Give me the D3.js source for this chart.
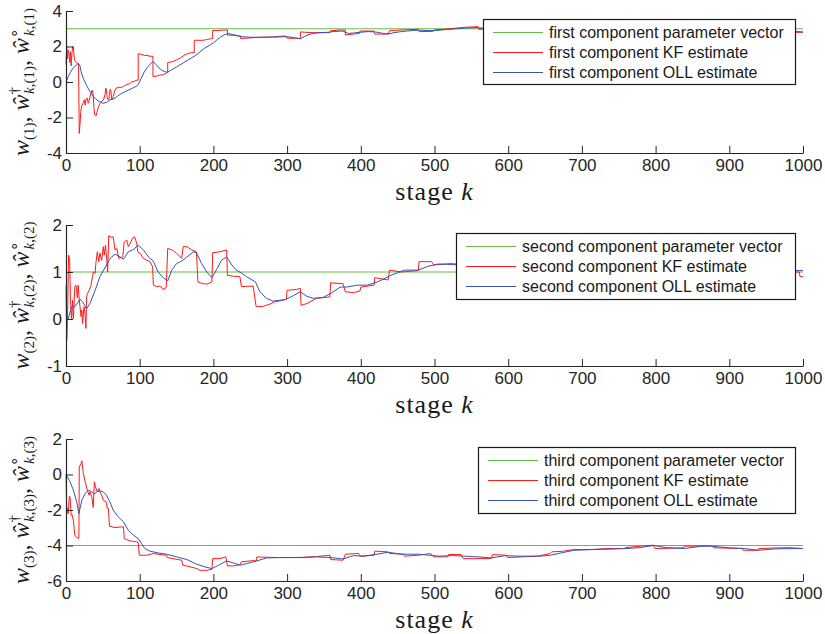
<!DOCTYPE html>
<html>
<head>
<meta charset="utf-8">
<script src="https://cdn.jsdelivr.net/npm/d3@7"></script>
<style>
  html, body { margin: 0; padding: 0; background: #fff; }
  svg { display: block; }
  .tick text { font-family: "Liberation Sans", Arial, sans-serif; font-size: 17px; fill: #262626; }
</style>
</head>
<body>
<svg id="chart" width="825" height="634"></svg>
<script>
// ---- data -------------------------------------------------------------
const xTicks = [0, 100, 200, 300, 400, 500, 600, 700, 800, 900, 1000];
const yTicks1 = [-4, -2, 0, 2, 4];
const yTicks2 = [-1, 0, 1, 2];
const yTicks3 = [-6, -4, -2, 0, 2];
const trueParams = [3, 1, -4];
const componentNames = ["first", "second", "third"];

// [stage k, estimate] pairs; repeated k marks a reset jump
const kf1 = [[0,1.0],[1,2.0],[2,1.3],[3,1.8],[4,1.6],[5,1.1],[6,1.7],[7,0.9],[8,1.6],[9,2.0],[10,2.0],[11,1.4],[12,1.2],[14,1.1],[16,1.05],[17,1.0],[18,-2.9],[19,-2.4],[20,-1.7],[21,-1.4],[23,-1.2],[25,-1.0],[26,-1.3],[27,-1.0],[29,-0.9],[30,-1.2],[31,-1.1],[33,-0.8],[35,-0.5],[36,-0.45],[37,-0.8],[38,-1.5],[39,-1.85],[41,-1.9],[42,-1.7],[44,-1.4],[46,-1.2],[49,-1.05],[51,-1.0],[53,-0.7],[54,-0.35],[55,-0.5],[56,-0.95],[58,-1.0],[59,-0.7],[60,-0.4],[61,-0.55],[62,-1.0],[64,-0.85],[66,-0.5],[68,-0.35],[71,-0.3],[75,-0.3],[78,-0.25],[82,-0.15],[86,-0.1],[89,0.0],[93,0.05],[96,0.1],[98,0.1],[98,1.6],[103,1.55],[106,1.5],[110,1.5],[114,1.45],[118,1.45],[118,0.3],[124,0.35],[128,0.4],[132,0.4],[136,0.5],[138,0.55],[138,1.1],[145,1.15],[150,1.25],[155,1.35],[160,1.5],[165,1.6],[170,1.65],[174,1.65],[174,2.35],[186,2.35],[192,2.4],[198,2.45],[199,2.45],[199,2.9],[206,2.9],[212,2.92],[219,2.93],[219,2.65],[226,2.63],[232,2.6],[237,2.58],[237,2.45],[245,2.47],[255,2.5],[265,2.52],[280,2.54],[295,2.59],[299,2.58],[300,2.47],[310,2.46],[318,2.45],[318,2.82],[325,2.8],[335,2.78],[358,2.78],[359,2.89],[374,2.93],[379,2.93],[379,2.65],[390,2.7],[398,2.74],[399,2.87],[418,2.87],[419,2.7],[437,2.7],[439,2.89],[460,2.94],[478,2.97],[479,2.84],[498,2.85],[499,2.93],[520,3.0],[541,3.08],[559,3.12],[560,2.97],[600,3.0],[700,3.02],[800,2.98],[900,3.0],[980,2.95],[985,2.8],[1000,2.8]];
const oll1 = [[0,0],[3,0.3],[6,0.55],[10,0.8],[14,0.95],[17,1.05],[19,0.9],[21,0.5],[24,0.15],[28,-0.2],[32,-0.5],[36,-0.75],[40,-0.95],[45,-1.1],[50,-1.2],[55,-1.15],[60,-1.0],[65,-0.95],[70,-0.8],[75,-0.65],[80,-0.55],[85,-0.45],[90,-0.35],[95,-0.25],[98,-0.15],[102,0.2],[106,0.55],[110,0.8],[114,1.0],[118,1.15],[122,1.0],[126,0.8],[130,0.66],[134,0.58],[138,0.55],[142,0.65],[150,0.85],[160,1.1],[170,1.35],[176,1.5],[182,1.7],[188,1.9],[196,2.1],[200,2.2],[205,2.38],[210,2.55],[216,2.68],[220,2.72],[226,2.68],[234,2.6],[240,2.55],[250,2.52],[265,2.52],[280,2.53],[300,2.55],[310,2.5],[318,2.43],[325,2.6],[335,2.74],[345,2.78],[355,2.8],[365,2.85],[375,2.87],[383,2.74],[390,2.76],[398,2.8],[410,2.84],[420,2.82],[430,2.74],[437,2.7],[445,2.78],[455,2.84],[470,2.9],[480,2.92],[490,2.9],[500,2.89],[515,2.95],[530,3.0],[541,3.04],[559,3.06],[570,3.02],[650,3.0],[750,3.0],[850,2.98],[950,2.95],[1000,2.82]];

const kf2 = [[0,0.7],[1,-0.45],[2,-0.03],[3.5,1.36],[5,1.25],[6,0.4],[7.5,0.0],[9,0.4],[10,0.0],[12,0.69],[13.5,0.72],[15.5,0.45],[16.5,0.72],[18,0.4],[19,0.26],[20.5,0.05],[21.5,0.19],[22.5,-0.1],[24.5,0.26],[26,0.08],[27,-0.2],[28,0.47],[29,0.54],[31.5,0.61],[33.5,0.69],[36,0.9],[37,1.0],[39.5,0.97],[40.5,1.18],[42.5,1.43],[44.5,1.22],[46,1.4],[48.5,1.25],[50.5,1.54],[52,1.36],[53.5,1.57],[55,1.32],[56.5,1.0],[58,1.77],[62,1.74],[64,1.75],[66.5,1.47],[69,1.5],[71.5,1.29],[77,1.32],[79,1.64],[82.5,1.68],[84.5,1.54],[87,1.61],[90.5,1.72],[93,1.75],[96,1.61],[97.5,1.43],[100.5,1.4],[105,1.29],[109.5,1.25],[114,1.22],[117.5,1.11],[118.5,0.72],[123,0.69],[127.5,0.7],[132,0.63],[136,0.67],[138,1.5],[144,1.47],[150,1.4],[157,1.29],[159,1.54],[164,1.54],[170.5,1.47],[177,1.43],[179,0.79],[184,0.76],[191,0.74],[198,0.79],[199,1.41],[209,1.43],[218,1.47],[219,0.93],[227,0.91],[236,0.9],[238,0.69],[254,0.7],[258,0.26],[268,0.27],[277,0.32],[282,0.36],[295,0.4],[299,0.42],[300,0.61],[313,0.63],[318,0.65],[319,0.29],[327,0.33],[340,0.44],[358,0.47],[359,0.77],[376,0.75],[379,0.58],[390,0.56],[399,0.6],[400,0.68],[418,0.72],[419,0.88],[437,0.83],[439,1.04],[455,1.0],[478,1.03],[479,1.22],[496,1.22],[499,1.15],[523,1.18],[540,1.15],[600,1.1],[700,1.08],[800,1.05],[900,1.03],[985,1.0],[995,1.0],[996,0.9],[1000,0.9]];
const oll2 = [[0,0],[3,0.0],[7.5,0.26],[12,0.26],[19,0.42],[22.5,0.37],[28,0.22],[32.5,0.33],[39.5,0.61],[46,0.9],[55,1.15],[60,1.29],[66.5,1.38],[73.5,1.32],[78,1.27],[84.5,1.43],[91.5,1.48],[98,1.57],[105,1.47],[112,1.32],[118.5,1.23],[125,1.0],[132,0.88],[138,0.81],[143.5,1.04],[150,1.18],[157,1.23],[164,1.32],[173,1.43],[177,1.41],[184,1.18],[191,1.0],[198,0.88],[205,1.07],[211,1.25],[218,1.32],[225,1.15],[231,1.04],[238,0.98],[245,0.9],[257,0.79],[263,0.58],[272,0.44],[281,0.38],[290,0.4],[297,0.41],[309,0.5],[318,0.58],[327,0.48],[336,0.44],[349,0.46],[361,0.56],[372,0.68],[381,0.68],[395,0.72],[409,0.72],[423,0.79],[441,0.93],[459,1.04],[478,1.04],[491,1.12],[505,1.17],[523,1.16],[560,1.12],[650,1.08],[750,1.05],[850,1.04],[1000,1.03]];

const kf3 = [[0,0],[1,-2.2],[2.3,-1.9],[3,-2.2],[4.5,-1.22],[5.5,-1.26],[7,-2.3],[8,-2.25],[10,-2.58],[12,-3.42],[14.5,-3.55],[17.5,-3.6],[18,0.43],[20.5,0.62],[21.5,0.77],[23.5,0.06],[26,-0.41],[29,-0.88],[31.5,-1.17],[32.5,-0.98],[35,-1.26],[37,-1.86],[38.5,-0.41],[40,-0.7],[42.5,-0.98],[45,-0.79],[46,-0.98],[48.5,-1.17],[50.5,-1.45],[54.5,-1.54],[56,-1.92],[57.5,-1.92],[59,-2.91],[66.5,-2.99],[75.5,-2.95],[78,-2.95],[79,-3.61],[87,-3.74],[96,-3.8],[98,-3.85],[99.5,-4.55],[109.5,-4.55],[118.5,-4.45],[127.5,-4.51],[136.5,-4.55],[137.5,-4.68],[145.5,-4.74],[157,-4.83],[158.5,-5.11],[168.5,-5.2],[177.5,-5.3],[182,-5.4],[191,-5.4],[198,-5.34],[199,-4.74],[209,-4.74],[217,-4.64],[219,-5.15],[227,-5.15],[236,-5.08],[238,-4.92],[254,-4.85],[258,-4.87],[259,-4.64],[268,-4.66],[290,-4.68],[320,-4.67],[340,-4.62],[358,-4.55],[359,-4.79],[376,-4.83],[379,-4.49],[397,-4.45],[399,-4.6],[418,-4.55],[419,-4.32],[437,-4.36],[439,-4.45],[458,-4.49],[459,-4.6],[478,-4.55],[495,-4.45],[499,-4.64],[518,-4.64],[519,-4.51],[536,-4.51],[539,-4.74],[577,-4.74],[579,-4.51],[597,-4.55],[599,-4.68],[640,-4.6],[657,-4.45],[659,-4.36],[675,-4.32],[689,-4.23],[712,-4.23],[734,-4.17],[758,-4.17],[759,-4.12],[779,-4.04],[797,-3.98],[799,-4.17],[826,-4.15],[838,-4.13],[839,-4.04],[876,-4.02],[879,-4.13],[917,-4.17],[919,-4.27],[939,-4.27],[940,-4.17],[980,-4.12],[1000,-4.17]];
const oll3 = [[0,0],[5.5,-0.41],[10,-0.88],[14.5,-1.54],[17.5,-2.2],[21.5,-1.45],[26,-1.07],[30.5,-0.88],[35,-0.98],[38.5,-1.11],[41.5,-0.98],[46,-0.92],[50.5,-0.98],[55,-1.17],[59.5,-1.54],[64,-2.0],[71,-2.39],[78,-2.67],[84.5,-3.14],[91.5,-3.42],[98,-3.61],[102.5,-3.89],[107,-4.17],[114,-4.32],[125,-4.42],[136.5,-4.49],[150,-4.64],[164,-4.79],[177.5,-5.06],[189,-5.21],[198,-5.3],[207,-5.11],[218,-4.87],[227,-4.98],[236,-5.11],[245,-5.02],[259,-4.87],[272,-4.7],[290,-4.68],[318,-4.68],[340,-4.64],[359,-4.68],[376,-4.76],[390,-4.57],[404,-4.6],[422,-4.49],[437,-4.38],[455,-4.49],[478,-4.49],[505,-4.6],[523,-4.57],[541,-4.6],[559,-4.64],[577,-4.7],[596,-4.57],[614,-4.6],[644,-4.6],[657,-4.55],[689,-4.27],[712,-4.23],[734,-4.21],[761,-4.17],[779,-4.12],[797,-4.0],[815,-4.12],[839,-4.17],[862,-4.04],[876,-4.04],[899,-4.13],[921,-4.17],[939,-4.27],[962,-4.19],[1000,-4.17]];

// ---- layout -----------------------------------------------------------
const colors = { truth: "#62c046", kf: "#ff1a1a", oll: "#3553b8", axis: "#262626" };
const xRange = [66, 803];
const panels = [
  { kf: kf1, oll: oll1, truth: trueParams[0], yDomain: [-4, 4], yTicks: yTicks1, top: 11,  bottom: 153,
    legend: { x: 483, y: 19,  w: 312, h: 65 } },
  { kf: kf2, oll: oll2, truth: trueParams[1], yDomain: [-1, 2], yTicks: yTicks2, top: 225, bottom: 366,
    legend: { x: 456, y: 233, w: 339, h: 66 } },
  { kf: kf3, oll: oll3, truth: trueParams[2], yDomain: [-6, 2], yTicks: yTicks3, top: 439, bottom: 581,
    legend: { x: 478, y: 447, w: 317, h: 66 } }
];

const svg = d3.select("#chart");
const x = d3.scaleLinear().domain([0, 1000]).range(xRange);

panels.forEach((p, i) => {
  const y = d3.scaleLinear().domain(p.yDomain).range([p.bottom, p.top]);
  const g = svg.append("g");
  const line = d3.line().x(d => x(d[0])).y(d => y(d[1]));

  // series: true parameter, KF estimate, OLL estimate
  g.append("path").datum([[0, p.truth], [1000, p.truth]])
    .attr("d", line).attr("fill", "none").attr("stroke", colors.truth).attr("stroke-width", 1.1);
  g.append("path").datum(p.kf)
    .attr("d", line).attr("fill", "none").attr("stroke", colors.kf).attr("stroke-width", 1);
  g.append("path").datum(p.oll)
    .attr("d", line).attr("fill", "none").attr("stroke", colors.oll).attr("stroke-width", 1);

  // axes (ticks pointing inward, no box)
  const xAxis = d3.axisBottom(x).tickValues(xTicks).tickFormat(d3.format("d"))
    .tickSizeInner(-7).tickSizeOuter(0).tickPadding(6);
  const yAxis = d3.axisLeft(y).tickValues(p.yTicks).tickFormat(d => String(d))
    .tickSizeInner(-7).tickSizeOuter(0).tickPadding(4);
  const gx = g.append("g").attr("transform", `translate(0,${p.bottom})`).call(xAxis);
  const gy = g.append("g").attr("transform", `translate(${xRange[0]},0)`).call(yAxis);
  [gx, gy].forEach(a => {
    a.select(".domain").attr("stroke", colors.axis).attr("stroke-width", 1.2);
    a.selectAll(".tick line").attr("stroke", colors.axis).attr("stroke-width", 1);
  });

  // x-axis title
  const xt = g.append("text")
    .attr("x", (xRange[0] + xRange[1]) / 2).attr("y", p.bottom + 47)
    .attr("text-anchor", "middle")
    .attr("font-family", "'Liberation Serif', 'Times New Roman', serif")
    .attr("font-size", 26).attr("letter-spacing", 1).attr("fill", "#1a1a1a");
  xt.append("tspan").text("stage ");
  xt.append("tspan").attr("font-style", "italic").text("k");

  // y-axis title: w_(i), ŵ†_{k,(i)}, ŵ°_{k,(i)}
  const idx = `(${i + 1})`;
  const yt = g.append("text")
    .attr("transform", `translate(29,${(p.top + p.bottom) / 2}) rotate(-90)`)
    .attr("text-anchor", "middle")
    .attr("font-family", "'Liberation Serif', 'Times New Roman', serif")
    .attr("font-size", 24).attr("fill", "#1a1a1a");
  const sub = 15;
  yt.append("tspan").attr("font-style", "italic").text("w");
  yt.append("tspan").attr("font-size", sub).attr("dy", 5).text(idx);
  yt.append("tspan").attr("dy", -5).text(", ");
  [["\u2020", 0], ["\u2218", 0]].forEach(([mark], j) => {
    yt.append("tspan").attr("font-style", "italic").text("\u0175");
    yt.append("tspan").attr("font-size", sub).attr("dy", -10).text(mark);
    yt.append("tspan").attr("font-size", sub).attr("font-style", "italic").attr("dx", -7).attr("dy", 15).text("k");
    yt.append("tspan").attr("font-size", sub).text("," + idx);
    if (j === 0) yt.append("tspan").attr("dy", -5).text(", ");
  });

  // legend
  const L = p.legend;
  const lg = g.append("g").attr("transform", `translate(${L.x},${L.y})`);
  lg.append("rect").attr("x", 0.5).attr("y", 0.5).attr("width", L.w).attr("height", L.h)
    .attr("fill", "#fff").attr("stroke", "#1a1a1a").attr("stroke-width", 1.2);
  const labels = [
    `${componentNames[i]} component parameter vector`,
    `${componentNames[i]} component KF estimate`,
    `${componentNames[i]} component OLL estimate`
  ];
  const swatch = [colors.truth, colors.kf, colors.oll];
  labels.forEach((t, j) => {
    const ly = 13.5 + j * 20;
    lg.append("line").attr("x1", 10).attr("x2", 60).attr("y1", ly).attr("y2", ly)
      .attr("stroke", swatch[j]).attr("stroke-width", 1.2);
    lg.append("text").attr("x", 66).attr("y", ly).attr("dy", "0.35em")
      .attr("font-family", "'Liberation Sans', Arial, sans-serif").attr("font-size", 16)
      .attr("fill", "#1a1a1a").text(t);
  });
});
</script>
</body>
</html>
